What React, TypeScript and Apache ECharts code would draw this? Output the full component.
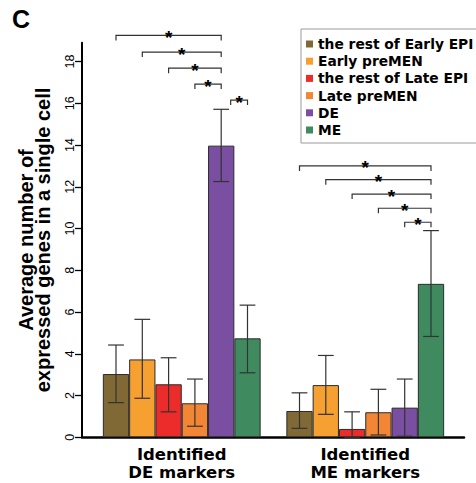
import React, { useEffect, useRef } from 'react';
import * as echarts from 'echarts';

const categories = ['Identified\nDE markers', 'Identified\nME markers'];
const groups = ['the rest of Early EPI', 'Early preMEN', 'the rest of Late EPI', 'Late preMEN', 'DE', 'ME'];
const colors = ['#806934', '#f6a032', '#ec2b2b', '#f28634', '#7a4ea0', '#3f8b5f'];

const meanDE = [3.03, 3.73, 2.54, 1.63, 13.97, 4.74];
const meanME = [1.26, 2.5, 0.4, 1.2, 1.42, 7.35];
const errLowDE = [1.66, 1.87, 1.22, 0.53, 12.25, 3.09];
const errHighDE = [4.42, 5.65, 3.81, 2.79, 15.71, 6.33];
const errLowME = [0.43, 1.1, 0, 0.11, 0.05, 4.83];
const errHighME = [2.13, 3.92, 1.22, 2.3, 2.79, 9.9];

const yTicks = [0, 2, 4, 6, 8, 10, 12, 14, 16, 18];
const yMax = 18.9;

// significance brackets: [category, fromGroup, toGroup, level]
const bracketsDE = [
  [0, 0, 4, 19.25],
  [0, 1, 4, 18.45],
  [0, 2, 4, 17.68],
  [0, 3, 4, 16.92],
  [0, 4, 5, 16.15],
];
const bracketsME = [
  [1, 0, 5, 13.0],
  [1, 1, 5, 12.34],
  [1, 2, 5, 11.65],
  [1, 3, 5, 10.97],
  [1, 4, 5, 10.3],
];

const BW = 26.3;

export default function App() {
  const ref = useRef<HTMLDivElement>(null);
  useEffect(() => {
    if (!ref.current) return;
    const chart = echarts.init(ref.current, undefined, { renderer: 'svg' });

    const errData: number[][] = [];
    for (let g = 0; g < groups.length; g++) {
      errData.push([0, errLowDE[g], errHighDE[g], g]);
      errData.push([1, errLowME[g], errHighME[g], g]);
    }
    const brackets = [...bracketsDE, ...bracketsME];

    const barSeries = groups.map((name, i) => ({
      type: 'bar',
      name,
      xAxisIndex: 0,
      yAxisIndex: 0,
      data: [meanDE[i], meanME[i]],
      barWidth: BW,
      barGap: '0%',
      itemStyle: { color: colors[i], borderColor: '#2b2b2b', borderWidth: 1 },
      z: 2,
    }));

    const option: any = {
      animation: false,
      textStyle: { fontFamily: 'Liberation Sans' },
      graphic: [
        {
          type: 'text',
          left: 12,
          top: 6,
          style: { text: 'C', font: 'bold 25px "Liberation Sans"', fill: '#000' },
        },
      ],
      legend: {
        orient: 'vertical',
        left: 301,
        top: 29,
        padding: [8, 14, 6, 5],
        itemWidth: 7,
        itemHeight: 7,
        itemGap: 3.2,
        icon: 'rect',
        borderColor: '#9a9a9a',
        borderWidth: 1,
        itemStyle: { borderWidth: 0 },
        textStyle: {
          fontFamily: 'DejaVu Sans',
          fontWeight: 'bold',
          fontSize: 13.8,
          lineHeight: 14,
          color: '#000',
        },
        data: groups,
      },
      grid: [
        { left: 90, right: 19, top: 42.7, bottom: 45.7 },
        { left: 82, right: 12, top: 42.7, bottom: 45.7 },
      ],
      xAxis: [
        {
          type: 'category',
          gridIndex: 0,
          data: categories,
          axisLine: { show: false },
          axisTick: { show: false },
          axisLabel: {
            interval: 0,
            margin: 8,
            fontFamily: 'DejaVu Sans',
            fontWeight: 'bold',
            fontSize: 16.5,
            lineHeight: 18,
            color: '#000',
          },
        },
        {
          type: 'value',
          gridIndex: 1,
          min: 0,
          max: 1,
          axisLine: { show: true, lineStyle: { color: '#000', width: 2.5 } },
          axisTick: { show: false },
          axisLabel: { show: false },
          splitLine: { show: false },
        },
      ],
      yAxis: [
        { type: 'value', gridIndex: 0, min: 0, max: yMax, show: false },
        {
          type: 'value',
          gridIndex: 1,
          min: 0,
          max: yMax,
          axisLine: { show: true, lineStyle: { color: '#000', width: 2 } },
          axisTick: {
            show: true,
            customValues: yTicks,
            length: 7,
            lineStyle: { color: '#000', width: 1.3 },
          },
          axisLabel: {
            customValues: yTicks,
            rotate: 90,
            margin: 6,
            fontSize: 12.5,
            color: '#000',
            fontFamily: 'Liberation Sans',
          },
          splitLine: { show: false },
          name: 'Average number of\nexpressed genes in a single cell',
          nameLocation: 'middle',
          nameRotate: 90,
          nameGap: 31,
          nameTextStyle: {
            fontFamily: 'Liberation Sans',
            fontWeight: 'bold',
            fontSize: 20,
            lineHeight: 17,
            color: '#000',
          },
        },
      ],
      series: [
        ...barSeries,
        {
          type: 'custom',
          name: 'error',
          xAxisIndex: 0,
          yAxisIndex: 0,
          data: errData,
          encode: { x: 0, y: [1, 2] },
          z: 5,
          silent: true,
          renderItem: (params: any, api: any) => {
            const cat = api.value(0);
            const lo = Math.max(0, api.value(1));
            const hi = api.value(2);
            const g = api.value(3);
            const cx = api.coord([cat, 0])[0] + (g - 2.5) * BW;
            const yLo = api.coord([cat, lo])[1];
            const yHi = api.coord([cat, hi])[1];
            const hw = BW * 0.3;
            const st = { stroke: '#333', lineWidth: 1.2 };
            return {
              type: 'group',
              children: [
                { type: 'line', shape: { x1: cx, y1: yLo, x2: cx, y2: yHi }, style: st },
                { type: 'line', shape: { x1: cx - hw, y1: yHi, x2: cx + hw, y2: yHi }, style: st },
                { type: 'line', shape: { x1: cx - hw, y1: yLo, x2: cx + hw, y2: yLo }, style: st },
              ],
            };
          },
        },
        {
          type: 'custom',
          name: 'significance',
          xAxisIndex: 0,
          yAxisIndex: 0,
          data: brackets,
          encode: { x: 0, y: 3 },
          clip: false,
          z: 6,
          silent: true,
          renderItem: (params: any, api: any) => {
            const cat = api.value(0);
            const from = api.value(1);
            const to = api.value(2);
            const level = api.value(3);
            const base = api.coord([cat, level]);
            const center = base[0];
            const y = base[1];
            // inset start when other brackets of the same group end on this bar
            const shared = brackets.some((b) => b[0] === cat && b[2] === from);
            const x1 = center + (from - 2.5) * BW + (shared ? BW * 0.36 : 0);
            const x2 = center + (to - 2.5) * BW;
            const drop = 5;
            const st = { stroke: '#333', lineWidth: 1.2, fill: 'none' };
            return {
              type: 'group',
              children: [
                {
                  type: 'polyline',
                  shape: { points: [[x1, y + drop], [x1, y], [x2, y], [x2, y + drop]] },
                  style: st,
                },
                {
                  type: 'text',
                  style: {
                    text: '*',
                    x: (x1 + x2) / 2,
                    y: y + 2,
                    align: 'center',
                    verticalAlign: 'middle',
                    font: 'bold 19px "Liberation Sans"',
                    fill: '#000',
                  },
                },
              ],
            };
          },
        },
      ],
    };

    chart.setOption(option);
    return () => chart.dispose();
  }, []);

  return (
    <div
      ref={ref}
      style={{ position: 'fixed', left: 0, top: 0, width: 476, height: 483, background: '#fff' }}
    />
  );
}
